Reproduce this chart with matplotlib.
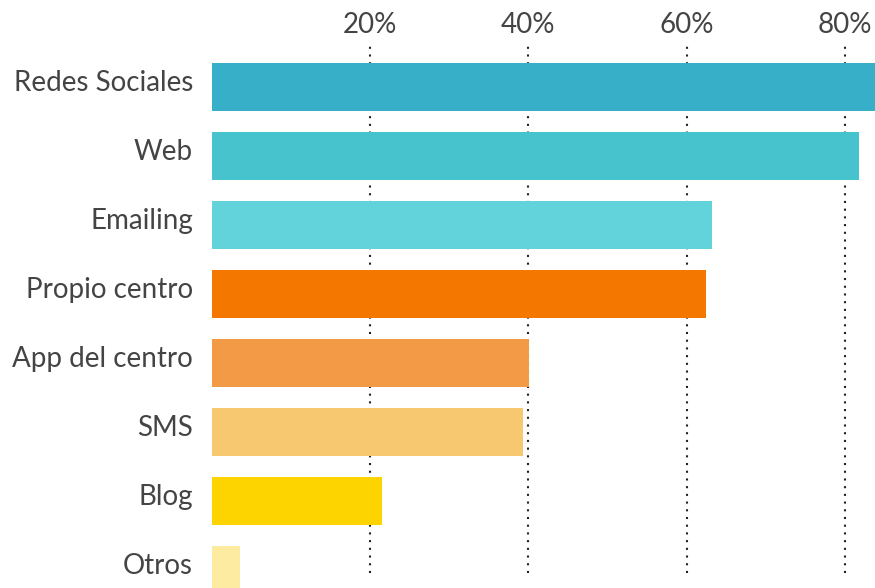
import matplotlib.pyplot as plt
import matplotlib.transforms as mtransforms
import numpy as np

canales = ["Redes Sociales", "Web", "Emailing", "Propio centro",
           "App del centro", "SMS", "Blog", "Otros"]
porcentajes = [85.0, 81.7, 63.2, 62.4, 40.1, 39.3, 21.5, 3.6]
colores = ["#37AFC9", "#46C3CC", "#62D2DB", "#F47700",
           "#F29A45", "#F8C870", "#FDD400", "#FDEBA2"]
marcas = [20, 40, 60, 80]
etiquetas_marcas = ["20%", "40%", "60%", "80%"]

plt.rcParams['font.family'] = ['Lato', 'DejaVu Sans']
gris = "#444444"

fig = plt.figure(figsize=(8.75, 5.88), dpi=100)
ax = fig.add_axes([0.2418, 0.0255, 0.7582, 0.8997])

y = np.arange(len(canales))
ax.barh(y, porcentajes, height=0.7, color=colores, zorder=2, clip_on=False)

ax.set_xlim(0, 83.76)
ax.set_ylim(7.043, -0.623)

ax.xaxis.tick_top()
ax.set_xticks(marcas)
ax.set_xticklabels(etiquetas_marcas)
ax.set_yticks(y)
ax.set_yticklabels(canales)
ax.tick_params(axis='x', length=0, pad=4, labelsize=20, labelcolor=gris)
ax.tick_params(axis='y', length=0, pad=13.4, labelsize=20, labelcolor=gris)

# category names sit a little above the bar centre
subir = mtransforms.ScaledTranslation(0, 5 / 72, fig.dpi_scale_trans)
for lbl in ax.get_yticklabels():
    lbl.set_transform(lbl.get_transform() + subir)

# dotted vertical guides behind the bars
ax.set_axisbelow(True)
ax.grid(axis='x', color="#222222", linewidth=1.5, linestyle=(0, (1, 2.7)))
ax.grid(axis='y', visible=False)

for s in ax.spines.values():
    s.set_visible(False)

fig.savefig("out.png", dpi=100)
